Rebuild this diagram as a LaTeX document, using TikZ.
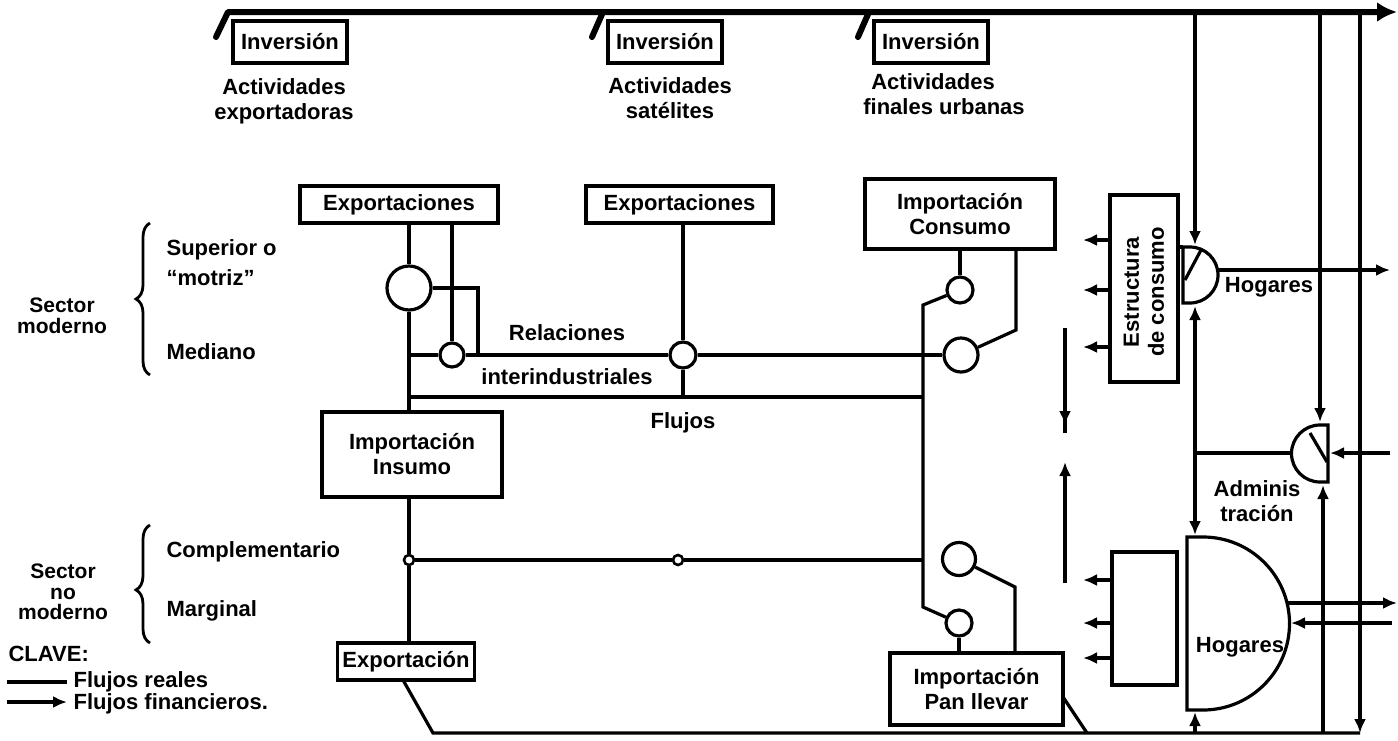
\documentclass[tikz,border=0pt]{standalone}
\usepackage{fontspec}
\setmainfont{Liberation Sans}
\usetikzlibrary{arrows.meta,decorations.pathreplacing}
\newcommand\dlbl{\bfseries\fontsize{22}{25}\selectfont}
\begin{document}
\begin{tikzpicture}[x=1pt,y=-1pt,line width=3.2pt,
 box/.style={draw,line width=3.4pt,inner sep=0pt,align=center,font=\dlbl},
 invbox/.style={box,minimum width=114,minimum height=42},
 txt/.style={inner sep=0pt,align=center,font=\dlbl},
 ltxt/.style={inner sep=0pt,anchor=west,font=\dlbl},
 rc/.style={circle,draw,inner sep=0pt,line width=3.2pt},
 fin/.style={-{Latex[length=14pt,width=12pt]}},
 mainline/.style={line width=6pt,line cap=round,line join=round}]
\fill[white] (0,0) rectangle (1398,740);
\useasboundingbox (0,0) rectangle (1398,740);

% ---------- top investment line ----------
\coordinate (tl0) at (216,37);
\coordinate (tl1) at (228,12);
\coordinate (tlend) at (1397,12);
\draw[mainline,-{Latex[length=20pt,width=20pt]}] (tl0) -- (tl1) -- (tlend);
\draw[mainline] (592,37) -- (603,12);
\draw[mainline] (858,37) -- (869,12);

\node[invbox] (inv1) at (290,42) {Inversión};
\node[invbox] (inv2) at (665,42) {Inversión};
\node[invbox] (inv3) at (931,42) {Inversión};

\node[txt] (act1) at (284,101) {Actividades\\exportadoras};
\node[txt] (act2) at (670,98) {Actividades\\satélites};
\node[txt,align=left] (act3) at (944,94) {\hspace{8pt}Actividades\\finales urbanas};

% ---------- boxes ----------
\node[box,minimum width=198,minimum height=37] (exp1) at (399,204.5) {Exportaciones};
\node[box,minimum width=187,minimum height=37] (exp2) at (679.5,204.5) {Exportaciones};
\node[box,minimum width=190,minimum height=70] (impc) at (960,214) {Importación\\Consumo};
\node[box,minimum width=180,minimum height=85] (insumo) at (412,454.5) {Importación\\Insumo};
\node[box,minimum width=137,minimum height=37] (expn) at (406,661.5) {Exportación};
\node[box,minimum width=173,minimum height=72] (pan) at (976.5,689) {Importación\\Pan llevar};
\node[box,minimum width=68,minimum height=187] (estr) at (1144,288.5) {};
\node[txt,rotate=90] (estrt) at (1144,292) {Estructura\\de consumo};
\node[box,minimum width=65,minimum height=133] (sbox) at (1144.5,618.5) {};

% ---------- circles ----------
\node[rc,minimum size=44] (c1) at (409,288) {};
\node[rc,minimum size=24] (c2) at (452,355) {};
\node[rc,minimum size=26] (c3) at (683,355) {};
\node[rc,minimum size=26] (c4) at (960,290) {};
\node[rc,minimum size=34] (c5) at (961,355) {};
\node[rc,minimum size=33] (c6) at (959,559) {};
\node[rc,minimum size=26] (c7) at (959,623) {};
\node[rc,minimum size=10,line width=2.6pt] (c8) at (409,560) {};
\node[rc,minimum size=10,line width=2.6pt] (c9) at (678,560) {};

% ---------- junction coordinates ----------
\coordinate (j1) at (478,355);
\coordinate (L355) at (409,355);
\coordinate (L397) at (409,397);
\coordinate (M397) at (923,397);
\coordinate (m305) at (923,305);
\coordinate (m607) at (923,607);
\coordinate (m560) at (923,560);
\coordinate (r330) at (1016,330);
\coordinate (r587) at (1015,587);
\coordinate (b0) at (403,680);
\coordinate (b1) at (433,733);
\coordinate (b2) at (1360,733);
\coordinate (p0) at (1063,697);
\coordinate (p1) at (1087,733);

% ---------- real flows ----------
\draw (exp1.south -| c1) -- (c1);
\draw (c1) -- (insumo.north -| c1);
\draw (exp1.south -| c2) -- (c2);
\draw (c1) -- (c1.east -| j1) -- (j1);
\draw (L355) -- (c2);
\draw (c2) -- (c3);
\draw (c3) -- (c5);
\draw (exp2.south -| c3) -- (c3);
\draw (c3) -- (c3 |- L397);
\draw (L397) -- (M397);
\draw (impc.south -| c4) -- (c4);
\draw (c4) -- (m305) -- (m607) -- (c7);
\draw (impc.south -| r330) -- (r330) -- (c5);
\draw (c6) -- (r587) -- (pan.north -| r587);
\draw (c7) -- (pan.north -| c7);
\draw (c8) -- (c9);
\draw (c9) -- (m560);
\draw (insumo.south -| c8) -- (c8);
\draw (c8) -- (expn.north -| c8);
\draw (b0) -- (b1) -- (b2);
\draw (p0) -- (p1);

% ---------- households and administration ----------
\draw (1178,247) -- (1183,247);
\draw (1183,247) -- (1190,247) arc[start angle=90,end angle=-90,radius=28pt] -- (1183,303) -- cycle;
\draw (1185,280) -- (1201,250);
\coordinate (hogTtop) at (1195,245);
\coordinate (hogTbot) at (1195,306);
\coordinate (hogTr) at (1217.5,270);
\node[txt] (hogT) at (1269,287) {Hogares};

\draw (1328,425) -- (1320,425) arc[start angle=90,end angle=270,radius=28.5pt] -- (1328,482) -- cycle;
\draw (1310,433) -- (1327,462);
\coordinate (admtop) at (1320,422);
\coordinate (admbot) at (1323,485);
\coordinate (admL) at (1291.5,453);
\coordinate (admR) at (1330,453);
\node[txt] (admt) at (1257,501) {Adminis\\tración};

\draw (1187,537) -- (1203,537) arc[start angle=90,end angle=-90,radius=86.5pt] -- (1187,710) -- cycle;
\coordinate (hogBtop) at (1195,535);
\coordinate (hogBbot) at (1195,712);
\coordinate (hogBo) at (1288,603);
\coordinate (hogBi) at (1291,623);
\node[txt] (hogB) at (1240,647) {Hogares};

% ---------- financial flows ----------
\coordinate (v1) at (1195,12);
\coordinate (v2) at (1320,12);
\coordinate (v3) at (1360,12);
\coordinate (ax) at (1195,453);
\coordinate (hogTout) at (1390,270);
\coordinate (admin) at (1390,453);
\coordinate (hogBout) at (1397,603);
\coordinate (hogBin) at (1392,623);
\coordinate (admsrc) at (1323,733);
\coordinate (hogBsrc) at (1195,733);
\draw[fin] (v1) -- (hogTtop);
\draw[fin] (v2) -- (admtop);
\draw[fin] (v3) -- (b2);
\draw[fin] (hogTr) -- (hogTout);
\draw (ax) -- (admL);
\draw[fin] (ax) -- (hogTbot);
\draw[fin] (ax) -- (hogBtop);
\draw[fin] (admin) -- (admR);
\draw[fin] (admsrc) -- (admbot);
\draw[fin] (hogBo) -- (hogBout);
\draw[fin] (hogBin) -- (hogBi);
\draw[fin] (hogBsrc) -- (hogBbot);

\foreach \yy in {240,290,347} {\draw[fin] (estr.west |- 0,\yy) -- (1083,\yy);}
\foreach \yy in {580,623,658} {\draw[fin] (sbox.west |- 0,\yy) -- (1083,\yy);}

\coordinate (d1) at (1065,328);
\coordinate (d2) at (1065,425);
\coordinate (d3) at (1065,433);
\coordinate (d4) at (1065,583);
\coordinate (d5) at (1065,462);
\draw[fin] (d1) -- (d2);
\draw (1065,418) -- (d3);
\draw[fin] (d4) -- (d5);

% ---------- labels ----------
\node[txt] (rel) at (567,333) {Relaciones};
\node[txt] (inter) at (567,377) {interindustriales};
\node[txt] (fluj) at (683,423) {Flujos};

\node[txt,font=\bfseries\fontsize{21}{21}\selectfont] (sm) at (62,316) {Sector\\moderno};
\draw[line width=2.8pt,decorate,decoration={brace,amplitude=14pt}] (150,375) -- (150,223);
\node[ltxt] (sup) at (165,250) {Superior o};
\node[ltxt] (mot) at (165,278) {``motriz''};
\node[ltxt] (med) at (165,352) {Mediano};

\node[txt,font=\bfseries\fontsize{21}{20.5}\selectfont] (snm) at (63,592) {Sector\\no\\moderno};
\draw[line width=2.8pt,decorate,decoration={brace,amplitude=14pt,aspect=0.45}] (150,643) -- (150,525);
\node[ltxt] (comp) at (165,552) {Complementario};
\node[ltxt] (marg) at (165,611) {Marginal};

\node[ltxt] (clave) at (7,654) {CLAVE:};
\coordinate (k1) at (7,682);
\coordinate (k2) at (67,682);
\coordinate (k3) at (7,702);
\coordinate (k4) at (67,702);
\draw (k1) -- (k2);
\draw[fin] (k3) -- (k4);
\node[ltxt] (fr) at (72,682) {Flujos reales};
\node[ltxt] (ff) at (72,704) {Flujos financieros.};
\end{tikzpicture}
\end{document}
